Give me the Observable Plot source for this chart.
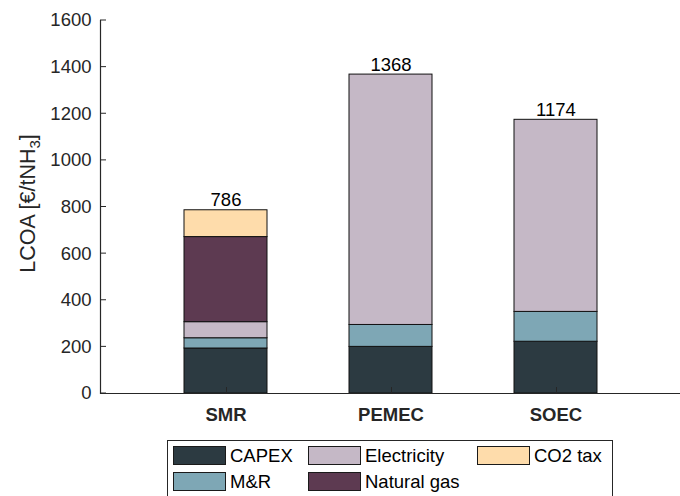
<!DOCTYPE html>
<html><head><meta charset="utf-8">
<script src="https://cdn.jsdelivr.net/npm/d3@7"></script>
<script src="https://cdn.jsdelivr.net/npm/@observablehq/plot@0.6"></script>
<style>
body{margin:0;background:#fff;font-family:"Liberation Sans",Arial,sans-serif;}
#wrap{position:relative;width:680px;height:496px;overflow:hidden;}
#chart svg{display:block;}
#legend{position:absolute;left:167px;top:440px;width:444px;height:70px;border:1px solid #262626;background:#fff;}
.item{position:absolute;display:flex;align-items:center;font-size:18.5px;color:#000;white-space:nowrap;}
.sw{box-sizing:border-box;width:53px;height:19px;border:1px solid #1a1a1a;margin-right:4px;}
</style></head><body><div id="wrap"><div id="chart"></div><div id="legend"></div></div>
<script>
const categories = ["SMR", "PEMEC", "SOEC"];
const components = ["CAPEX", "M&R", "Electricity", "Natural gas", "CO2 tax"];
const capex = [193, 200, 222];
const mr = [44, 94, 128];
const electricity = [69, 1074, 824];
const naturalGas = [365, 0, 0];
const co2Tax = [115, 0, 0];
const totals = [786, 1368, 1174];
const colors = ["#2c3a41", "#7ea7b5", "#c5b8c6", "#5d3a51", "#fedcab"];
const yTicks = [0, 200, 400, 600, 800, 1000, 1200, 1400, 1600];

const series = [capex, mr, electricity, naturalGas, co2Tax];
const rows = [];
categories.forEach((c, i) => components.forEach((k, j) => {
  const v = series[j][i];
  if (v > 0) rows.push({category: c, component: k, value: v});
}));
const totalRows = categories.map((c, i) => ({category: c, total: totals[i]}));

const axisColor = "#262626";

function inwardTicks(index, scales, values, dims) {
  const g = d3.create("svg:g").attr("stroke", axisColor).attr("stroke-width", 1);
  const x0 = dims.marginLeft, y0 = dims.height - dims.marginBottom;
  for (const t of yTicks) {
    const y = scales.y(t);
    g.append("line").attr("x1", x0).attr("x2", x0 + 6).attr("y1", y).attr("y2", y);
  }
  let bw = scales.x.bandwidth;
  if (typeof bw === "function") bw = bw();
  for (const c of categories) {
    const x = Math.round(scales.x(c) + bw / 2) + 0.5;
    g.append("line").attr("x1", x).attr("x2", x).attr("y1", y0).attr("y2", y0 - 6);
  }
  return g.node();
}

function yLabel(index, scales, values, dims) {
  const cy = (dims.marginTop + dims.height - dims.marginBottom) / 2 - 3;
  const t = d3.create("svg:text")
    .attr("transform", `translate(35,${cy}) rotate(-90)`)
    .attr("text-anchor", "middle")
    .attr("fill", axisColor)
    .attr("font-size", "21.5px");
  t.append("tspan").text("LCOA [€/tNH");
  t.append("tspan").attr("font-size", "15px").attr("dy", "5").text("3");
  t.append("tspan").attr("dy", "-5").text("]");
  return t.node();
}

const plot = Plot.plot({
  width: 680, height: 432,
  marginLeft: 100, marginRight: 0, marginTop: 20, marginBottom: 39,
  style: {fontFamily: "'Liberation Sans', Arial, sans-serif", fontSize: "18.5px", color: axisColor, background: "transparent"},
  x: {domain: categories, paddingInner: 0.5, paddingOuter: 0.5, axis: null},
  y: {domain: [0, 1600], axis: null},
  color: {domain: components, range: colors},
  marks: [
    Plot.barY(rows, {x: "category", y: "value", fill: "component", stroke: "#111", strokeWidth: 1}),
    Plot.text(totalRows, {x: "category", y: "total", text: d => String(d.total), lineAnchor: "bottom", dy: -4, fill: "#000", fontSize: 18.5}),
    Plot.axisY({ticks: yTicks, tickFormat: d => String(d), tickSize: 0, tickPadding: 9, label: null, fontSize: 18.5}),
    Plot.axisX({tickSize: 0, tickPadding: 14, label: null, fontWeight: "bold", fontSize: 18.5, fill: axisColor}),
    Plot.ruleY([0], {stroke: axisColor, strokeWidth: 1.2}),
    Plot.frame({anchor: "left", stroke: axisColor, strokeWidth: 1.2}),
    inwardTicks,
    yLabel
  ]
});
document.getElementById("chart").appendChild(plot);

// legend (column-major, 2 rows)
const legend = document.getElementById("legend");
const colX = [5, 140, 309];
const rowY = [5, 31];
components.forEach((k, j) => {
  const col = Math.floor(j / 2), row = j % 2;
  const item = document.createElement("div");
  item.className = "item";
  item.style.left = colX[col] + "px";
  item.style.top = rowY[row] + "px";
  item.style.height = "19px";
  const sw = document.createElement("div");
  sw.className = "sw";
  sw.style.background = colors[j];
  const lab = document.createElement("span");
  lab.textContent = k;
  item.appendChild(sw);
  item.appendChild(lab);
  legend.appendChild(item);
});
</script>
</body></html>
